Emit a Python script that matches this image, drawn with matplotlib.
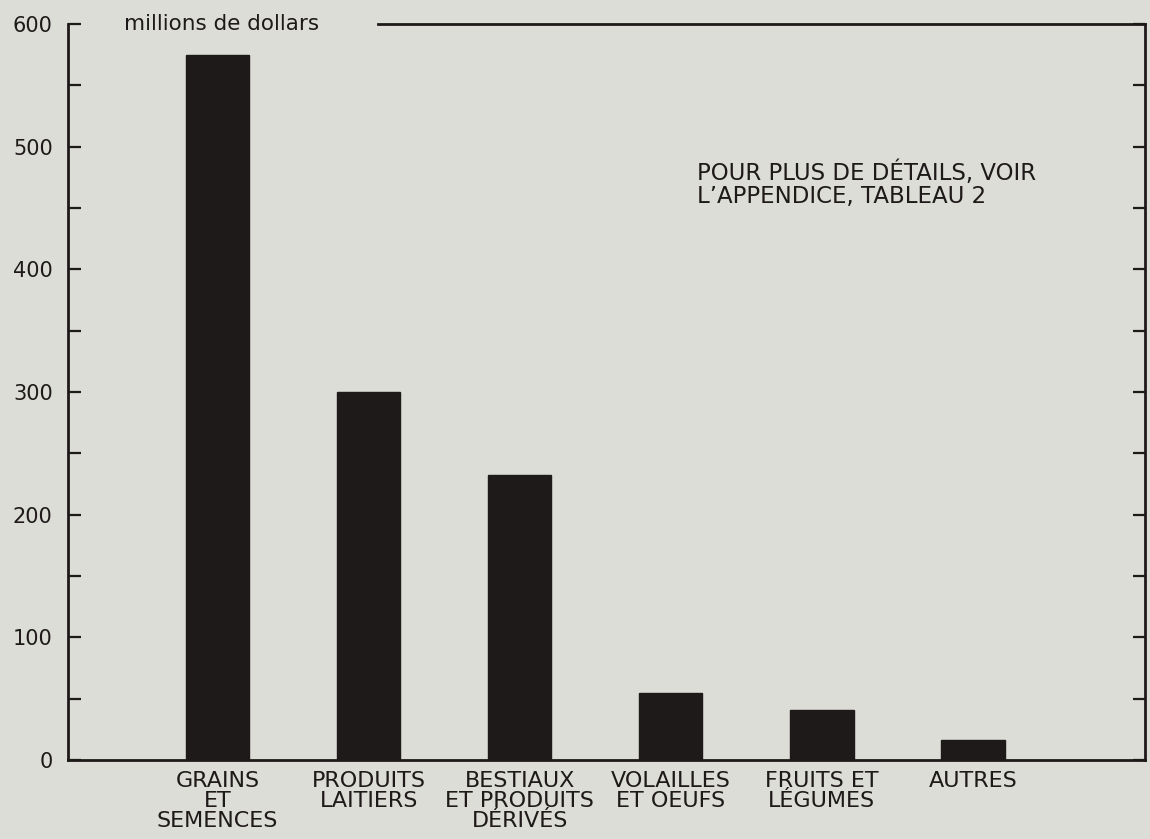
import matplotlib.pyplot as plt
import numpy as np

# Values (millions de dollars)
categories = ["GRAINS\nET\nSEMENCES", "PRODUITS\nLAITIERS", "BESTIAUX\nET PRODUITS\nDÉRIVÉS",
              "VOLAILLES\nET OEUFS", "FRUITS ET\nLÉGUMES", "AUTRES"]
values = [575, 300, 232, 55, 41, 16]
y_major = [0, 100, 200, 300, 400, 500, 600]
y_minor = [50, 150, 250, 350, 450, 550]

bg = "#dcddd6"
ink = "#1e1a1a"

plt.rcParams['font.family'] = ['DejaVu Sans']

fig = plt.figure(figsize=(11.5, 8.39), dpi=100, facecolor=bg)
ax = fig.add_axes([0.0591, 0.0942, 0.9366, 0.8772], facecolor=bg)

x = np.arange(len(categories))
ax.bar(x, values, width=0.42, color=ink, edgecolor=ink)

ax.set_xlim(-0.99, 6.14)
ax.set_ylim(0, 600)

# Axis frame: top line only partly drawn (label sits in the gap)
ax.spines['top'].set_visible(False)
for side in ['left', 'right', 'bottom']:
    ax.spines[side].set_linewidth(2.0)
    ax.spines[side].set_color(ink)
ax.axhline(600, xmin=0.288, xmax=1.0, color=ink, linewidth=2.0, clip_on=False)

ax.set_yticks(y_major)
ax.set_yticks(y_minor, minor=True)
ax.set_yticklabels([str(v) for v in y_major])
ax.tick_params(axis='y', which='both', direction='in', length=9, width=1.6,
               color=ink, left=True, right=True, pad=11, labelsize=15, labelcolor=ink)

ax.set_xticks(x)
ax.set_xticklabels(categories, fontsize=16, color=ink, linespacing=1.0)
ax.tick_params(axis='x', length=0, pad=8)

ax.text(0.052, 1.0, "millions de dollars", transform=ax.transAxes,
        fontsize=15.5, color=ink, va='center', ha='left')

ax.text(0.584, 0.814, "POUR PLUS DE DÉTAILS, VOIR\nL\u2019APPENDICE, TABLEAU 2",
        transform=ax.transAxes, fontsize=16.5, color=ink, va='top', ha='left',
        linespacing=1.0)

plt.savefig("out.png", dpi=100, facecolor=bg)
